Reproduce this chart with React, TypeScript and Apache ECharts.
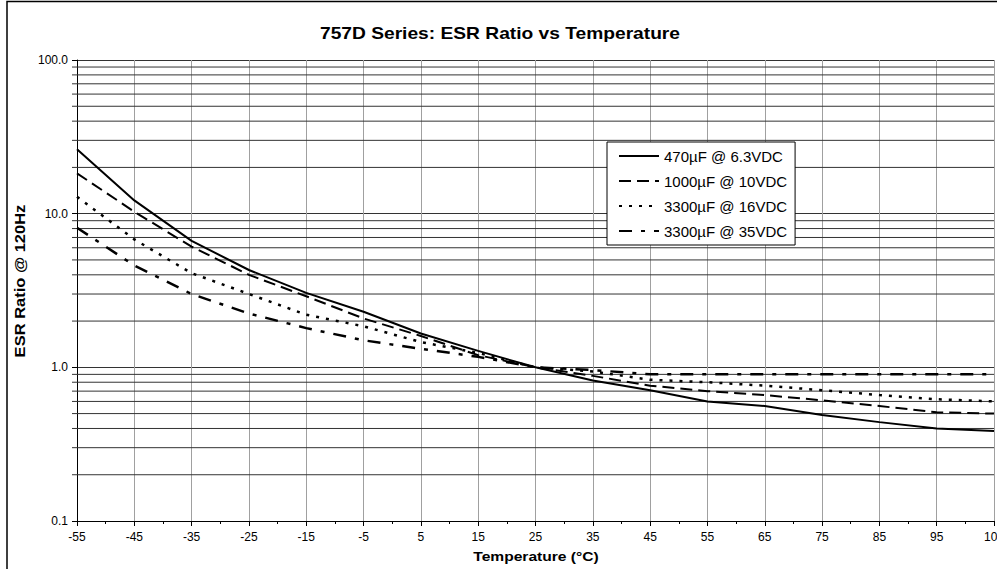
import React, { useEffect, useRef } from 'react';
import * as echarts from 'echarts';

// ---- data ----
const temps = [-55, -45, -35, -25, -15, -5, 5, 15, 25, 35, 45, 55, 65, 75, 85, 95, 105];
const esr470 = [26.3, 12.2, 6.65, 4.3, 3.05, 2.3, 1.66, 1.28, 1.0, 0.82, 0.71, 0.6, 0.56, 0.49, 0.44, 0.4, 0.385];
const esr1000 = [18.3, 10.3, 6.1, 4.0, 2.9, 2.08, 1.6, 1.2, 1.0, 0.88, 0.76, 0.7, 0.66, 0.61, 0.56, 0.51, 0.5];
const esr3300a = [12.9, 6.8, 4.1, 3.0, 2.2, 1.85, 1.46, 1.24, 1.0, 0.94, 0.83, 0.8, 0.76, 0.71, 0.66, 0.62, 0.6];
const esr3300b = [8.1, 4.6, 3.0, 2.24, 1.8, 1.5, 1.32, 1.17, 1.0, 0.96, 0.9, 0.9, 0.9, 0.9, 0.9, 0.9, 0.9];

const seriesNames = ['470µF @ 6.3VDC', '1000µF @ 10VDC', '3300µF @ 16VDC', '3300µF @ 35VDC'];
const minorGridValues = [0.2, 0.3, 0.4, 0.5, 0.6, 0.7, 0.8, 0.9, 2, 3, 4, 5, 6, 7, 8, 9, 20, 30, 40, 50, 60, 70, 80, 90];

const X_MIN = -55;
const X_MAX = 105;
const Y_MIN = 0.1;
const Y_MAX = 100;

const FONT = '"Liberation Sans", Arial, Helvetica, sans-serif';

export default function App() {
  const ref = useRef<HTMLDivElement>(null);

  useEffect(() => {
    document.body.style.margin = '0';
    const chart = echarts.init(ref.current as HTMLDivElement, null, { renderer: 'svg' });

    const mk = (vals: number[]) => temps.map((t, i) => [t, vals[i]]);
    const lineSeries = (name: string, vals: number[], type: any, width: number) => ({
      name,
      type: 'line',
      data: mk(vals),
      symbol: 'none',
      smooth: false,
      color: '#000',
      lineStyle: { color: '#000', width, type, cap: 'butt' },
      z: 5,
      silent: true,
    });

    chart.setOption({
      animation: false,
      backgroundColor: '#fff',
      textStyle: { fontFamily: FONT },
      grid: { left: 77, right: 3, top: 60, bottom: 48, outerBoundsMode: 'none', containLabel: false },
      legend: {
        data: seriesNames,
        orient: 'vertical',
        left: 607,
        top: 142,
        padding: [6, 8, 6, 11],
        itemWidth: 40,
        itemHeight: 14,
        itemGap: 9,
        borderColor: '#000',
        borderWidth: 1,
        backgroundColor: '#fff',
        selectedMode: false,
        itemStyle: { opacity: 0, color: 'rgba(0,0,0,0)', borderWidth: 0 },
        textStyle: { fontFamily: FONT, fontSize: 15, color: '#000', lineHeight: 16 },
        z: 10,
      },
      xAxis: {
        type: 'value',
        min: X_MIN,
        max: X_MAX,
        interval: 10,
        axisLine: { show: true, onZero: false, lineStyle: { color: '#000', width: 1 } },
        axisTick: { show: true, inside: false, length: 5, lineStyle: { color: '#000' } },
        minorTick: { show: true, splitNumber: 2, length: 3, lineStyle: { color: '#000' } },
        axisLabel: { fontFamily: FONT, fontSize: 12, color: '#000', margin: 10 },
        splitLine: { show: true, lineStyle: { color: '#a0a0a0', width: 1 } },
      },
      yAxis: {
        type: 'log',
        logBase: 10,
        min: Y_MIN,
        max: Y_MAX,
        axisLine: { show: true, onZero: false, lineStyle: { color: '#000', width: 1 } },
        axisTick: { show: true, inside: false, length: 5, lineStyle: { color: '#000' } },
        axisLabel: {
          fontFamily: FONT,
          fontSize: 12,
          color: '#000',
          margin: 9,
          formatter: (v: number) => Number(v).toFixed(1),
        },
        splitLine: { show: true, lineStyle: { color: '#333', width: 1 } },
      },
      graphic: [
        {
          type: 'rect',
          silent: true,
          z: 100,
          shape: { x: 7, y: 1.5, width: 1200, height: 800 },
          style: { fill: 'none', stroke: '#000', lineWidth: 1.5 },
        },
        {
          type: 'text',
          x: 500,
          y: 34,
          scaleX: 1.2,
          silent: true,
          style: {
            text: '757D Series: ESR Ratio vs Temperature',
            font: `bold 16px ${FONT}`,
            fill: '#000',
            align: 'center',
            verticalAlign: 'middle',
            textAlign: 'center',
            textVerticalAlign: 'middle',
          },
        },
        {
          type: 'text',
          x: 20,
          y: 281,
          rotation: Math.PI / 2,
          scaleX: 1.18,
          silent: true,
          style: {
            text: 'ESR Ratio @ 120Hz',
            font: `bold 14px ${FONT}`,
            fill: '#000',
            align: 'center',
            verticalAlign: 'middle',
            textAlign: 'center',
            textVerticalAlign: 'middle',
          },
        },
        {
          type: 'text',
          x: 536,
          y: 556,
          scaleX: 1.2,
          silent: true,
          style: {
            text: 'Temperature (°C)',
            font: `bold 13px ${FONT}`,
            fill: '#000',
            align: 'center',
            verticalAlign: 'middle',
            textAlign: 'center',
            textVerticalAlign: 'middle',
          },
        },
      ],
      series: [
        {
          name: 'minor-grid',
          type: 'custom',
          silent: true,
          clip: false,
          z: 1,
          data: minorGridValues.map((v) => [X_MIN, v]),
          encode: { x: 0, y: 1 },
          renderItem: (params: any, api: any) => {
            const v = api.value(1);
            const p0 = api.coord([X_MIN, v]);
            const p1 = api.coord([X_MAX, v]);
            return {
              type: 'line',
              shape: { x1: p0[0] - 5, y1: p0[1], x2: p1[0], y2: p1[1] },
              style: { stroke: '#333', lineWidth: 1 },
            };
          },
        },
        lineSeries(seriesNames[0], esr470, 'solid', 2),
        lineSeries(seriesNames[1], esr1000, [12, 6], 2),
        lineSeries(seriesNames[2], esr3300a, [3, 7], 2.5),
        lineSeries(seriesNames[3], esr3300b, [13, 9, 4, 9], 2.5),
      ],
    });

    return () => chart.dispose();
  }, []);

  return <div ref={ref} style={{ width: 997, height: 569 }} />;
}
